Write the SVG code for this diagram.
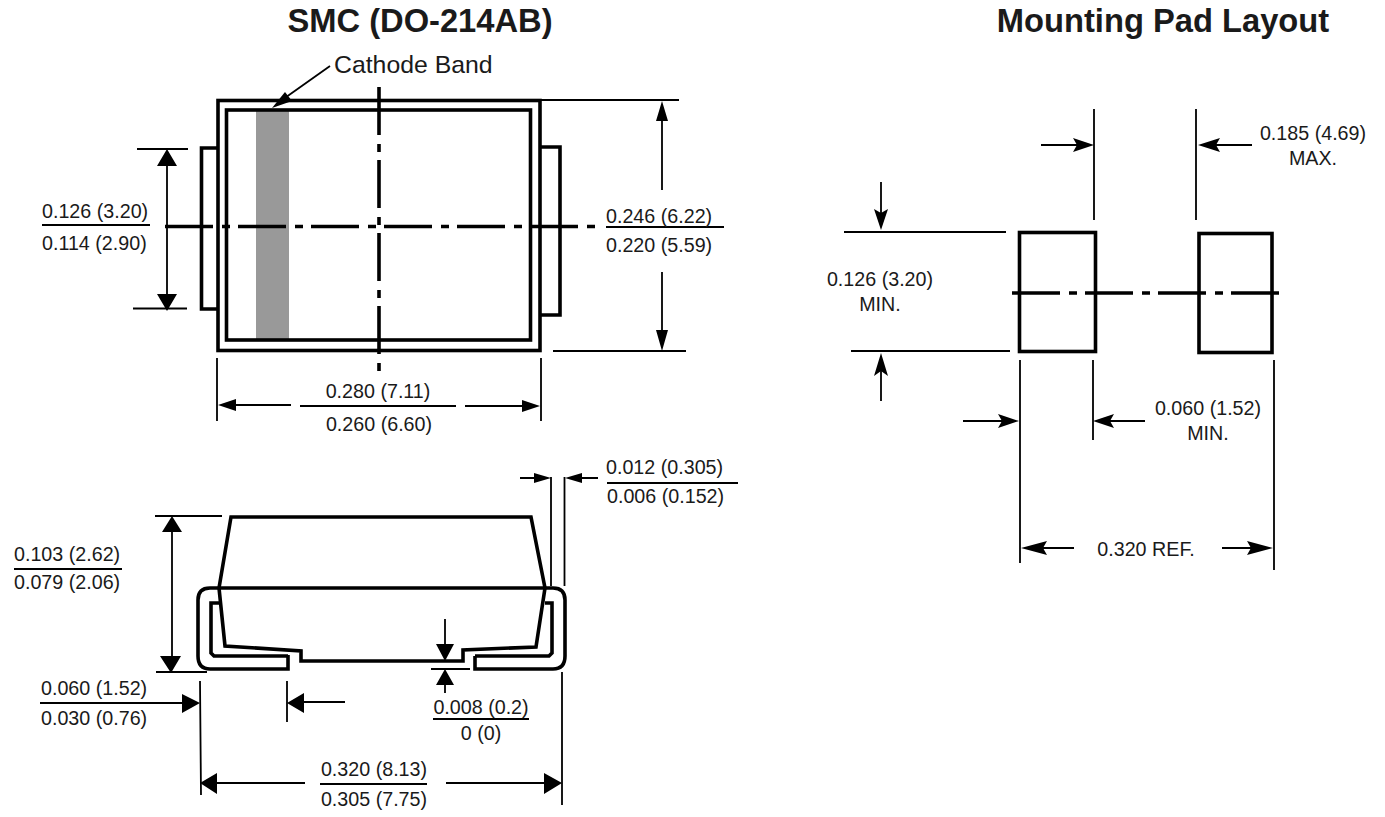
<svg xmlns="http://www.w3.org/2000/svg" width="1385" height="817" viewBox="0 0 1385 817">
<style>
text{font-family:"Liberation Sans",Arial,sans-serif;font-size:19.7px;fill:#1a1a1a}
.t{font-size:32.7px;font-weight:bold}
.c{font-size:24.8px}
.m{text-anchor:middle}
.thin{fill:none;stroke:#000;stroke-width:1.8}
.th{fill:none;stroke:#000;stroke-width:3.6}
.cl{fill:none;stroke:#000;stroke-width:3.6;stroke-dasharray:48 9 8 8}
.ah{fill:#000;stroke:none}
</style>
<rect width="1385" height="817" fill="#fff"/>
<g id="titles">
<text class="t m" x="420" y="32">SMC (DO-214AB)</text>
<text class="t m" x="1163" y="32">Mounting Pad Layout</text>
</g>
<g id="top-body">
<rect x="256" y="110" width="33" height="229" fill="#999"/>
<rect class="th" x="218" y="100.500" width="322" height="250"/>
<rect class="th" x="226.500" y="110" width="304" height="230"/>
<path class="th" d="M218 148H201.500V309H218M540 147H560V315H540"/>
</g>
<g id="side-body">
<path class="th" d="M231 517H531L545 588L536 647L463 650V661H301V651L225 646L219 588Z"/>
<path class="th" d="M219 588H545"/>
<path class="th" d="M219 588H210Q198 588 198 600V656Q198 669 210 669H288V655"/>
<path class="th" d="M219 603H211V653L214 656H288"/>
<path class="th" d="M545 588H553Q565 588 565 600V656Q565 669 553 669H475V656"/>
<path class="th" d="M545 603H552V653L549 656H475"/>
</g>
<g id="pads">
<rect class="th" x="1019.500" y="232.500" width="76" height="119"/>
<rect class="th" x="1199" y="233.500" width="73" height="119"/>
</g>
<g id="connectors">
<path class="cl" d="M165 226.500H597"/>
<path class="cl" d="M379 87V371"/>
<path class="cl" d="M1012 293H1280"/>
<path class="thin" d="M330 66L282 100"/>
<path class="ah" d="M272 108L285 92L292 101Z"/>
<path class="thin" d="M137 149H188M133 308.500H187M167 160V298"/>
<path class="ah" d="M167 149L177 166H157ZM167 311L157 294H177Z"/>
<path class="thin" d="M540 100H679M553 351H686M662 110V190M662 272V340"/>
<path class="ah" d="M662 101L668 121H656ZM662 351L656 330H668Z"/>
<path class="thin" d="M217 358V421M541 358V421M230 405H291M300 406H456M465 406H528"/>
<path class="ah" d="M218 405L236 399V411ZM540 406L522 412V400Z"/>
<path class="thin" d="M155 516H222M156 672H207M172 528V660"/>
<path class="ah" d="M172 516L182 532H162ZM171 673L160 656H181Z"/>
<path class="thin" d="M551 477V586M564.500 477V586M520 478H538M578 478H598"/>
<path class="ah" d="M551 478L534 473V483ZM565 478L582 473V483Z"/>
<path class="thin" d="M200 681L201 795M562 672V805M287 681V722M345 702H300M130 703H185M445 619V645M445 678V693M431 669H470"/>
<path class="ah" d="M200 703L182 694V713ZM287 703L304 693V713ZM445 661L436 644H454ZM445 669L454 685H436Z"/>
<path class="thin" d="M212 783H305M446 783H550"/>
<path class="ah" d="M200 783L217 773V794ZM562 783L544 773V794Z"/>
<path class="thin" d="M1094 109V220M1196 109V220M1041 145H1080M1212 145H1252"/>
<path class="ah" d="M1094 145L1073 138L1077 145L1073 152ZM1198 145L1220 138L1216 145L1220 152Z"/>
<path class="thin" d="M844 232H1006M851 351H1010M881 182V216M881 368V401"/>
<path class="ah" d="M881 230L874 209L881 213L888 209ZM881 353L874 376L881 371L888 376Z"/>
<path class="thin" d="M1020 360V563M1093 360V440M963 421H1005M1105 421H1145M1274 360V570M1035 548H1074M1222 548H1260"/>
<path class="ah" d="M1019 421L998 414L1002 421L998 428ZM1093 421L1114 414L1110 421L1114 428ZM1021 548L1047 541L1043 548L1047 555ZM1273 548L1247 541L1251 548L1247 555Z"/>
<path class="thin" d="M42 225H150M606 227H724M325 406H431M320 784H427M40 703H148M433 719H529M14 569H122M607 483H738"/>
</g>
<g id="labels">
<text class="c" x="334" y="73">Cathode Band</text>
<text x="42" y="218">0.126 (3.20)</text>
<text x="42" y="250">0.114 (2.90)</text>
<text x="606" y="223">0.246 (6.22)</text>
<text x="606" y="252">0.220 (5.59)</text>
<text class="m" x="378" y="398">0.280 (7.11)</text>
<text class="m" x="379" y="431">0.260 (6.60)</text>
<text x="606" y="474">0.012 (0.305)</text>
<text x="607" y="503">0.006 (0.152)</text>
<text x="14" y="561">0.103 (2.62)</text>
<text x="14" y="589">0.079 (2.06)</text>
<text x="41" y="695">0.060 (1.52)</text>
<text x="41" y="725">0.030 (0.76)</text>
<text class="m" x="481" y="714">0.008 (0.2)</text>
<text class="m" x="481" y="740">0 (0)</text>
<text class="m" x="374" y="776">0.320 (8.13)</text>
<text class="m" x="374" y="806">0.305 (7.75)</text>
<text class="m" x="1313" y="140">0.185 (4.69)</text>
<text class="m" x="1313" y="165">MAX.</text>
<text class="m" x="880" y="286">0.126 (3.20)</text>
<text class="m" x="880" y="311">MIN.</text>
<text class="m" x="1208" y="415">0.060 (1.52)</text>
<text class="m" x="1208" y="440">MIN.</text>
<text class="m" x="1146" y="556">0.320 REF.</text>
</g>
</svg>
